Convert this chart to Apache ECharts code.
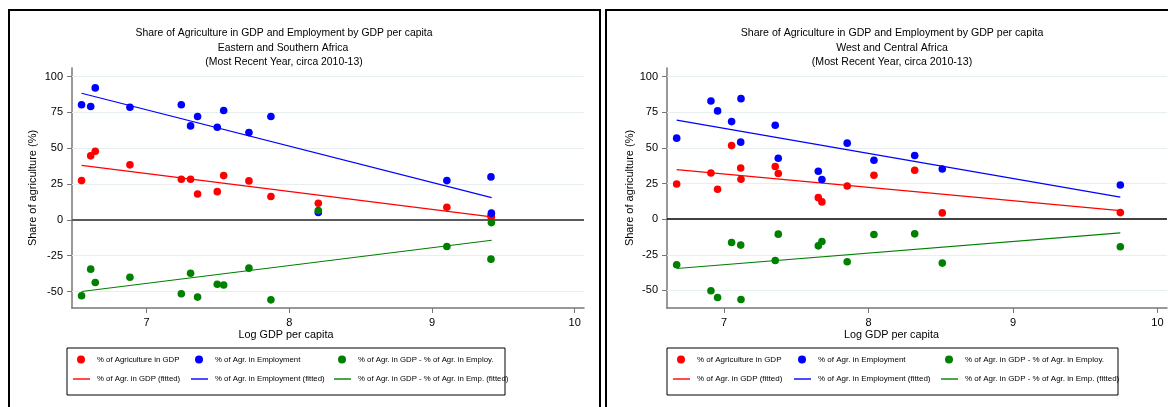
<!DOCTYPE html>
<html>
<head>
<meta charset="utf-8">
<script src="https://cdn.jsdelivr.net/npm/echarts@6/dist/echarts.min.js"></script>
<style>html,body{margin:0;padding:0;background:#fff;}#c{width:1168px;height:407px;}</style>
</head>
<body>
<div id="c"></div>
<script>
// ---------- DATA ----------
// Eastern and Southern Africa
const esaLogGdp = [6.544, 6.608, 6.640, 6.883, 7.243, 7.308, 7.357, 7.495, 7.540, 7.717, 7.871, 8.203, 9.104, 9.413, 9.416];
const esaAgrGdp = [27.4, 44.7, 47.9, 38.4, 28.4, 28.4, 18.1, 19.7, 30.9, 27.2, 16.3, 11.6, 8.8, 2.6, 2.3];
const esaAgrEmp = [80.3, 79.1, 92.1, 78.6, 80.3, 65.6, 72.1, 64.7, 76.3, 60.9, 72.1, 5.1, 27.4, 30.0, 4.7];
const esaAgrDiff = [-53.0, -34.4, -43.7, -40.0, -51.6, -37.2, -53.9, -44.9, -45.4, -33.7, -55.8, 6.5, -18.6, -27.4, -1.9];
const esaFitX = [6.544, 9.418];
const esaFitGdp = [38.1, 2.1];
const esaFitEmp = [88.4, 15.5];
const esaFitDiff = [-50.0, -14.2];

// West and Central Africa
const wcaLogGdp = [6.673, 6.910, 6.956, 7.053, 7.116, 7.118, 7.355, 7.376, 7.653, 7.678, 7.853, 8.038, 8.320, 8.511, 9.743];
const wcaAgrGdp = [24.7, 32.4, 21.0, 51.6, 35.9, 28.0, 36.9, 32.0, 15.1, 12.1, 23.3, 30.8, 34.3, 4.4, 4.6];
const wcaAgrEmp = [56.8, 82.9, 75.9, 68.4, 54.0, 84.5, 65.9, 42.7, 33.6, 27.8, 53.3, 41.3, 44.6, 35.2, 24.0];
const wcaAgrDiff = [-32.0, -50.2, -54.9, -16.4, -18.2, -56.3, -29.0, -10.5, -18.7, -15.7, -29.9, -10.8, -10.3, -30.8, -19.4];
const wcaFitX = [6.673, 9.743];
const wcaFitGdp = [34.8, 6.0];
const wcaFitEmp = [69.4, 15.4];
const wcaFitDiff = [-34.6, -9.6];

// Ticks
const xTicks = [7, 8, 9, 10];
const yTicks = [-50, -25, 0, 25, 50, 75, 100];
const yGridLines = [-50, -25, 25, 50, 75, 100];

// Texts
const mainTitle = 'Share of Agriculture in GDP and Employment by GDP per capita';
const subTitles = ['Eastern and Southern Africa', 'West and Central Africa'];
const periodText = '(Most Recent Year, circa 2010-13)';
const xName = 'Log GDP per capita';
const yName = 'Share of agriculture (%)';
const sGdp = '% of Agriculture in GDP';
const sEmp = '% of Agr. in Employment';
const sDiff = '% of Agr. in GDP - % of Agr. in Employ.';
const fGdp = '% of Agr. in GDP (fitted)';
const fEmp = '% of Agr. in Employment (fitted)';
const fDiff = '% of Agr. in GDP - % of Agr. in Emp. (fitted)';

// ---------- BUILD ----------
const FONT = '"Liberation Sans", Arial, Helvetica, sans-serif';
const RED = '#ff0000', BLUE = '#0000ff', GREEN = '#008000';
const zip = (xs, ys) => xs.map((x, i) => [x, ys[i]]);

function axes(gi, xmin, xmax, ymin, ymax) {
  const axisLineColor = '#777';
  return {
    x: {
      type: 'value', gridIndex: gi, min: xmin, max: xmax,
      axisLine: {show: true, onZero: false, lineStyle: {color: axisLineColor, width: 1.5}},
      axisTick: {show: true, customValues: xTicks, length: 5, lineStyle: {color: axisLineColor, width: 1}},
      axisLabel: {show: true, customValues: xTicks, margin: 9, fontSize: 11, color: '#000', fontFamily: FONT},
      splitLine: {show: false}
    },
    y: {
      type: 'value', gridIndex: gi, min: ymin, max: ymax,
      axisLine: {show: true, onZero: false, lineStyle: {color: axisLineColor, width: 1.5}},
      axisTick: {show: true, customValues: yTicks, length: 5, lineStyle: {color: axisLineColor, width: 1}},
      axisLabel: {show: true, customValues: yTicks, margin: 9, fontSize: 11, color: '#000', fontFamily: FONT},
      splitLine: {show: false}
    }
  };
}

const a0 = axes(0, 6.477, 10.065, -61.5, 106);
const a1 = axes(1, 6.606, 10.066, -62.3, 106);

function panelSeries(gi, lx, gdp, emp, diff, fx, fg, fe, fd, zeroColor, zeroWidth) {
  const gridMarks = yGridLines.map(v => ({yAxis: v, lineStyle: {color: '#e6eef0', width: 1.2, type: 'solid'}}));
  gridMarks.push({yAxis: 0, lineStyle: {color: zeroColor, width: zeroWidth, type: 'solid'}});
  const line = (name, ys, color, extra) => Object.assign({
    type: 'line', name, xAxisIndex: gi, yAxisIndex: gi, data: zip(fx, ys),
    symbol: 'none', showSymbol: false, silent: true, z: 3,
    lineStyle: {color, width: 1.2}, itemStyle: {color}
  }, extra || {});
  const sc = (name, ys, color) => ({
    type: 'scatter', name, xAxisIndex: gi, yAxisIndex: gi, data: zip(lx, ys),
    symbol: 'circle', symbolSize: 7.6, silent: true, z: 5,
    itemStyle: {color, opacity: 1}
  });
  return [
    line(fGdp, fg, RED, {markLine: {silent: true, symbol: ['none', 'none'], label: {show: false}, data: gridMarks, z: 1, animation: false}}),
    line(fEmp, fe, BLUE),
    line(fDiff, fd, GREEN),
    sc(sGdp, gdp, RED),
    sc(sEmp, emp, BLUE),
    sc(sDiff, diff, GREEN)
  ];
}

const LINE_ICON = 'path://M0,0 L17,0 L17,1.4 L0,1.4 Z';
function dotLegend(name, cx, cy, fs) {
  return {
    data: [name], left: cx - 4, top: cy - 6, orient: 'horizontal', padding: 0,
    icon: 'circle', itemWidth: 8, itemHeight: 8, selectedMode: false,
    textStyle: {fontSize: fs, color: '#000', fontFamily: FONT, padding: [0, 0, 0, 7]}
  };
}
function lineLegend(name, x0, cy, fs) {
  return {
    data: [name], left: x0, top: cy - 6, orient: 'horizontal', padding: 0,
    icon: LINE_ICON, itemWidth: 17, itemHeight: 8, selectedMode: false,
    itemStyle: {borderWidth: 0},
    textStyle: {fontSize: fs, color: '#000', fontFamily: FONT, padding: [0, 0, 0, 2]}
  };
}

const row1 = 361.5, row2 = 381;
const legends = [
  dotLegend(sGdp, 81, row1, 7.8), dotLegend(sEmp, 199, row1, 7.8), dotLegend(sDiff, 342, row1, 7.8),
  lineLegend(fGdp, 73, row2, 7.8), lineLegend(fEmp, 191, row2, 7.8), lineLegend(fDiff, 334, row2, 7.8),
  dotLegend(sGdp, 681, row1, 8), dotLegend(sEmp, 802, row1, 8), dotLegend(sDiff, 949, row1, 8),
  lineLegend(fGdp, 673, row2, 8), lineLegend(fEmp, 794, row2, 8), lineLegend(fDiff, 941, row2, 8)
];

function txt(text, x, y, size, rot) {
  return {
    type: 'text', x, y, rotation: rot || 0, silent: true,
    style: {text, x: 0, y: 0, align: 'center', verticalAlign: 'middle', fill: '#000',
      fontSize: size, fontFamily: FONT}
  };
}

const graphics = [
  {type: 'rect', shape: {x: 9, y: 10, width: 591, height: 420}, style: {fill: 'none', stroke: '#000', lineWidth: 2}, silent: true},
  {type: 'rect', shape: {x: 606, y: 10, width: 600, height: 420}, style: {fill: 'none', stroke: '#000', lineWidth: 2}, silent: true},
  {type: 'rect', shape: {x: 67, y: 348, width: 438, height: 47}, style: {fill: 'none', stroke: '#000', lineWidth: 1}, silent: true},
  {type: 'rect', shape: {x: 667, y: 348, width: 451, height: 47}, style: {fill: 'none', stroke: '#000', lineWidth: 1}, silent: true},
  txt(mainTitle, 284, 33, 10.4), txt(subTitles[0], 283, 47.7, 10.4), txt(periodText, 284, 61.7, 10.4),
  txt(mainTitle, 892, 33, 10.6), txt(subTitles[1], 892, 47.7, 10.6), txt(periodText, 892, 61.7, 10.6),
  txt(xName, 286, 335, 10.8), txt(xName, 891.5, 335, 10.8),
  txt(yName, 33, 188, 11, Math.PI / 2), txt(yName, 630, 188, 11, Math.PI / 2)
];

const option = {
  animation: false,
  backgroundColor: '#fff',
  textStyle: {fontFamily: FONT},
  grid: [
    {left: 72, top: 68, width: 512, height: 240, containLabel: false},
    {left: 667, top: 68, width: 500, height: 240, containLabel: false}
  ],
  xAxis: [a0.x, a1.x],
  yAxis: [a0.y, a1.y],
  legend: legends,
  graphic: graphics,
  series: [].concat(
    panelSeries(0, esaLogGdp, esaAgrGdp, esaAgrEmp, esaAgrDiff, esaFitX, esaFitGdp, esaFitEmp, esaFitDiff, '#5a5a5a', 2),
    panelSeries(1, wcaLogGdp, wcaAgrGdp, wcaAgrEmp, wcaAgrDiff, wcaFitX, wcaFitGdp, wcaFitEmp, wcaFitDiff, '#000', 1.6)
  )
};

const chart = echarts.init(document.getElementById('c'), null, {renderer: 'canvas'});
chart.setOption(option);
</script>
</body>
</html>
